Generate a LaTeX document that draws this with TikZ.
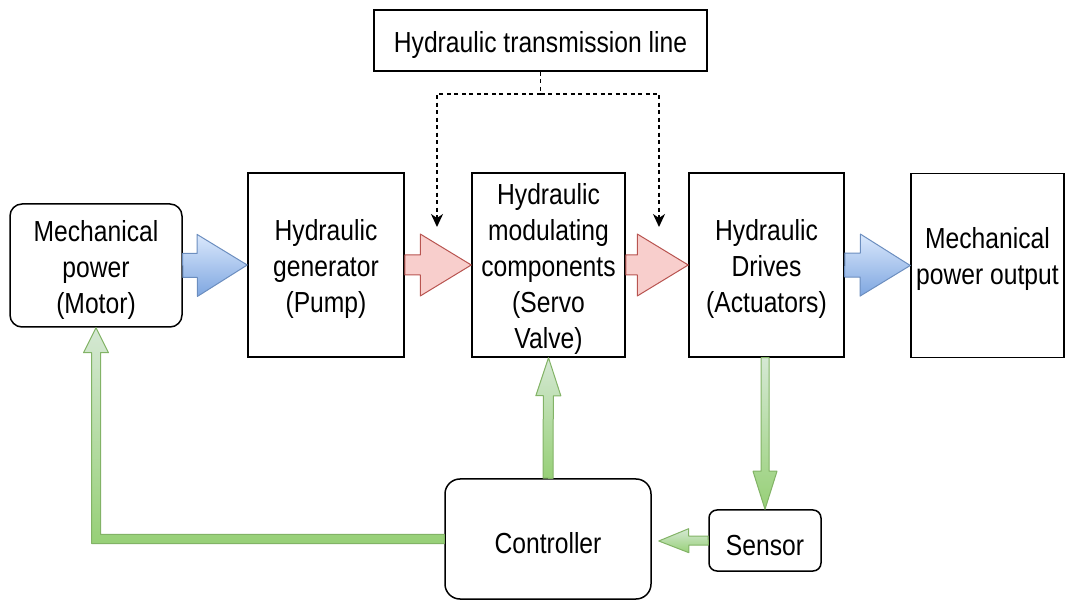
\documentclass[tikz,border=0pt]{standalone}
\usepackage{fontspec}
\setmainfont[FakeStretch=0.85]{Liberation Sans}
\usetikzlibrary{calc,arrows.meta}

\definecolor{bluelight}{HTML}{DAE8FC}
\definecolor{bluedark}{HTML}{7EA6E0}
\definecolor{bluestroke}{HTML}{6C8EBF}
\definecolor{redfill}{HTML}{F8CECC}
\definecolor{redstroke}{HTML}{B85450}
\definecolor{greenlight}{HTML}{D5E8D4}
\definecolor{greendark}{HTML}{97D077}
\definecolor{greenstroke}{HTML}{82B366}

% taller first line, so that the text block sits a little lower in its box
\newcommand\tx{\rule{0pt}{30pt}}

% block arrow: #1 style, #2 start, #3 tip, #4 head length, #5 shaft half width, #6 head half width
\newcommand\blockarrow[6]{%
  \path[#1] ($(#2)!#5!90:(#3)$)
    -- ($(#3)!#4!(#2)!#5!90:(#3)$)
    -- ($(#3)!#4!(#2)!#6!90:(#3)$)
    -- (#3)
    -- ($(#3)!#4!(#2)!#6!-90:(#3)$)
    -- ($(#3)!#4!(#2)!#5!-90:(#3)$)
    -- ($(#2)!#5!-90:(#3)$) -- cycle;}

\tikzset{
  label text/.style={align=center, inner sep=0pt, font=\fontsize{29pt}{36pt}\selectfont},
  box/.style={draw=black, line width=1.5pt, fill=white, label text},
  rbox/.style={box, rounded corners=#1},
  bluearrow/.style={draw=bluestroke, line width=1pt, line join=round,
    top color=bluelight, bottom color=bluedark},
  redarrow/.style={draw=redstroke, line width=1pt, line join=round, fill=redfill},
  greenarrow/.style={draw=greenstroke, line width=1pt, line join=round,
    top color=greenlight, bottom color=greendark},
  dashline/.style={draw=black, line width=1.8pt, dash pattern=on 4pt off 3.5pt},
  tip/.style={-{Stealth[length=13pt,width=12pt,inset=4pt]}}
}

\begin{document}
\begin{tikzpicture}[x=1pt,y=-1pt]
\useasboundingbox (0,0) rectangle (1069,601);

% blocks
\node[rbox=12pt, minimum width=172pt, minimum height=123pt] (motor) at (96,265.5)
  {\tx Mechanical\\power\\(Motor)};
\node[box, minimum width=156pt, minimum height=184pt] (gen) at (326,265)
  {\tx Hydraulic\\generator\\(Pump)};
\node[box, minimum width=153pt, minimum height=184pt] (mod) at (548.5,265)
  {\tx Hydraulic\\modulating\\components\\(Servo\\Valve)};
\node[box, minimum width=155pt, minimum height=184pt] (drv) at (766.5,265)
  {\tx Hydraulic\\Drives\\(Actuators)};
\node[box, minimum width=153pt, minimum height=184pt] (outb) at (987.5,265.5) {};
\node[label text] (outtxt) at ($(outb.center)+(0,-11)$) {\tx Mechanical\\power output};
\node[box, minimum width=333pt, minimum height=61pt] (trans) at (540.5,40.5)
  {\tx Hydraulic transmission line};
\node[rbox=15pt, minimum width=206pt, minimum height=120pt] (ctrl) at (548,539)
  {\tx Controller};
\node[rbox=8pt, minimum width=112pt, minimum height=61pt] (sens) at (765,540.5)
  {\tx Sensor};

% power flow
\blockarrow{bluearrow}{motor.east}{gen.west}{50pt}{12pt}{31pt}
\blockarrow{redarrow}{gen.east}{mod.west}{51pt}{10pt}{31pt}
\blockarrow{redarrow}{mod.east}{drv.west}{51pt}{10pt}{31pt}
\blockarrow{bluearrow}{drv.east}{outb.west}{50pt}{12pt}{31pt}

% transmission line taps
\coordinate (split) at ($(trans.south)+(0,22)$);
\coordinate (tapl) at (437,227);
\coordinate (tapr) at (659,227);
\draw[dashline] (trans.south) -- (split);
\draw[dashline, tip] (split) -| (tapl);
\draw[dashline, tip] (split) -| (tapr);

% feedback loop
\blockarrow{greenarrow}{drv.south -| sens.north}{sens.north}{38pt}{4pt}{12pt}
\coordinate (ctrltip) at ($(ctrl.east)+(7,2)$);
\blockarrow{greenarrow}{sens.west}{ctrltip}{30pt}{4.5pt}{12pt}
\blockarrow{greenarrow}{ctrl.north}{mod.south}{38pt}{5pt}{12.5pt}
\path[greenarrow] let \p1=(ctrl.west), \p2=(motor.south) in
  (\x1,{\y1+4.5pt}) -- ({\x2+4.5pt},{\y1+4.5pt}) -- ({\x2+4.5pt},{\y2-25pt})
  -- ({\x2+12.5pt},{\y2-25pt}) -- (\x2,\y2) -- ({\x2-12.5pt},{\y2-25pt})
  -- ({\x2-4.5pt},{\y2-25pt}) -- ({\x2-4.5pt},{\y1-4.5pt}) -- (\x1,{\y1-4.5pt}) -- cycle;
\end{tikzpicture}
\end{document}
